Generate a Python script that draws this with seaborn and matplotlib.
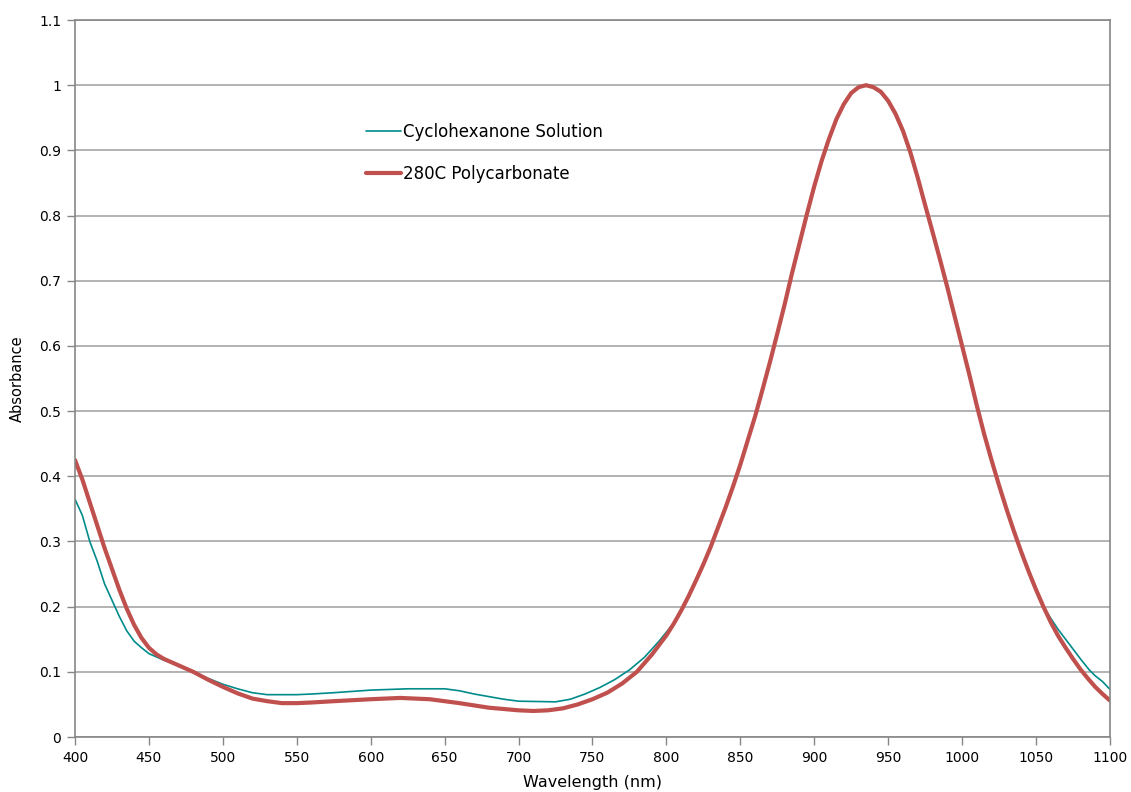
import pandas as pd
import numpy as np
import seaborn as sns
import matplotlib.pyplot as plt
from matplotlib.ticker import FuncFormatter, MultipleLocator

# data
solution_nm = [400, 405, 410, 415, 420, 425, 430, 435, 440, 445, 450, 460, 470, 480,
               490, 500, 510, 520, 530, 550, 560, 575, 600, 625, 650, 660, 670, 680,
               690, 700, 725, 735, 745, 755, 765, 775, 785, 795, 805, 810, 815, 820,
               825, 830, 835, 840, 845, 850, 855, 860, 865, 870, 875, 880, 885, 890,
               895, 900, 905, 910, 915, 920, 925, 930, 935, 940, 945, 950, 955, 960,
               965, 970, 975, 980, 985, 990, 995, 1000, 1005, 1010, 1015, 1020, 1025,
               1030, 1035, 1040, 1045, 1050, 1055, 1060, 1065, 1070, 1075, 1080, 1086,
               1090, 1095, 1100]
solution_abs = [0.365, 0.34, 0.30, 0.27, 0.235, 0.21, 0.185, 0.163, 0.147, 0.137, 0.128,
                0.118, 0.11, 0.10, 0.09, 0.081, 0.074, 0.068, 0.065, 0.065, 0.066, 0.068,
                0.072, 0.074, 0.074, 0.071, 0.066, 0.062, 0.058, 0.055, 0.054, 0.058,
                0.066, 0.076, 0.088, 0.103, 0.122, 0.147, 0.175, 0.196, 0.218, 0.241,
                0.265, 0.292, 0.322, 0.352, 0.384, 0.418, 0.455, 0.492, 0.533, 0.575,
                0.619, 0.664, 0.712, 0.757, 0.802, 0.845, 0.884, 0.918, 0.948, 0.971,
                0.988, 0.997, 1.0, 0.996, 0.988, 0.974, 0.953, 0.927, 0.894, 0.855,
                0.813, 0.772, 0.73, 0.687, 0.642, 0.597, 0.552, 0.506, 0.462, 0.422,
                0.384, 0.349, 0.316, 0.285, 0.256, 0.229, 0.20, 0.182, 0.165, 0.15,
                0.135, 0.12, 0.103, 0.094, 0.085, 0.073]

poly_nm = [400, 405, 410, 415, 420, 425, 430, 435, 440, 445, 450, 455, 460, 470, 480,
           490, 500, 510, 520, 530, 540, 550, 560, 575, 600, 620, 640, 660, 680, 700,
           710, 720, 730, 740, 750, 760, 770, 780, 790, 800, 805, 810, 815, 820, 825,
           830, 835, 840, 845, 850, 855, 860, 865, 870, 875, 880, 885, 890, 895, 900,
           905, 910, 915, 920, 925, 930, 935, 940, 945, 950, 955, 960, 965, 970, 975,
           980, 985, 990, 995, 1000, 1005, 1010, 1015, 1020, 1025, 1030, 1035, 1040,
           1045, 1050, 1055, 1060, 1065, 1070, 1075, 1080, 1085, 1090, 1095, 1100]
poly_abs = [0.425, 0.395, 0.36, 0.325, 0.29, 0.258, 0.226, 0.197, 0.172, 0.152, 0.137,
            0.127, 0.12, 0.11, 0.10, 0.088, 0.077, 0.067, 0.059, 0.055, 0.052, 0.052,
            0.053, 0.055, 0.058, 0.06, 0.058, 0.052, 0.045, 0.041, 0.04, 0.041, 0.044,
            0.05, 0.058, 0.068, 0.082, 0.10, 0.126, 0.156, 0.174, 0.194, 0.216, 0.24,
            0.265, 0.292, 0.322, 0.352, 0.384, 0.418, 0.455, 0.492, 0.533, 0.575,
            0.619, 0.664, 0.712, 0.757, 0.802, 0.845, 0.884, 0.918, 0.948, 0.971,
            0.988, 0.997, 1.0, 0.997, 0.99, 0.976, 0.956, 0.93, 0.897, 0.858, 0.816,
            0.775, 0.733, 0.69, 0.645, 0.60, 0.555, 0.508, 0.464, 0.424, 0.386, 0.35,
            0.316, 0.284, 0.254, 0.226, 0.20, 0.176, 0.155, 0.137, 0.12, 0.104, 0.09,
            0.077, 0.066, 0.056]

solution_df = pd.DataFrame({"nm": solution_nm, "abs": solution_abs})
poly_df = pd.DataFrame({"nm": poly_nm, "abs": poly_abs})

sns.set_style("white")
plt.rcParams['font.family'] = ['DejaVu Sans']
plt.rcParams['text.color'] = 'black'
plt.rcParams['axes.labelcolor'] = 'black'

fig = plt.figure(figsize=(11.31, 7.92), dpi=100)
ax = fig.add_axes([0.0663, 0.0694, 0.9151, 0.9053])

grid_col = "#a6a6a6"
ax.yaxis.grid(True, color=grid_col, linewidth=1.2)
ax.set_axisbelow(True)

sns.lineplot(data=solution_df, x="nm", y="abs", ax=ax, color="#008b8b",
             linewidth=1.2, label="Cyclohexanone Solution")
sns.lineplot(data=poly_df, x="nm", y="abs", ax=ax, color="#c0504d",
             linewidth=3.0, label="280C Polycarbonate")

ax.set_xlim(400, 1100)
ax.set_ylim(0, 1.1)
ax.xaxis.set_major_locator(MultipleLocator(50))
ax.yaxis.set_major_locator(MultipleLocator(0.1))
ax.yaxis.set_major_formatter(FuncFormatter(lambda v, p: f"{v:.1f}".rstrip("0").rstrip(".") if v else "0"))

for side in ["left", "right", "top", "bottom"]:
    ax.spines[side].set_color("#868686")
    ax.spines[side].set_linewidth(1.2)

ax.tick_params(axis="both", direction="out", length=6, width=1, color="#868686",
               labelsize=10, labelcolor="black", pad=4)
ax.tick_params(axis="x", bottom=True)
ax.tick_params(axis="y", left=True)

ax.set_xlabel("Wavelength (nm)", fontsize=11.5, labelpad=7)
ax.set_ylabel("Absorbance", fontsize=10.5, labelpad=10)

leg = ax.legend(loc="upper left", bbox_to_anchor=(0.281, 0.857), frameon=False,
                borderaxespad=0, borderpad=0, handlelength=2.1, handletextpad=0.15,
                labelspacing=1.45, fontsize=12)
for t in leg.get_texts():
    t.set_color("black")

fig.savefig("out.png", dpi=100)
